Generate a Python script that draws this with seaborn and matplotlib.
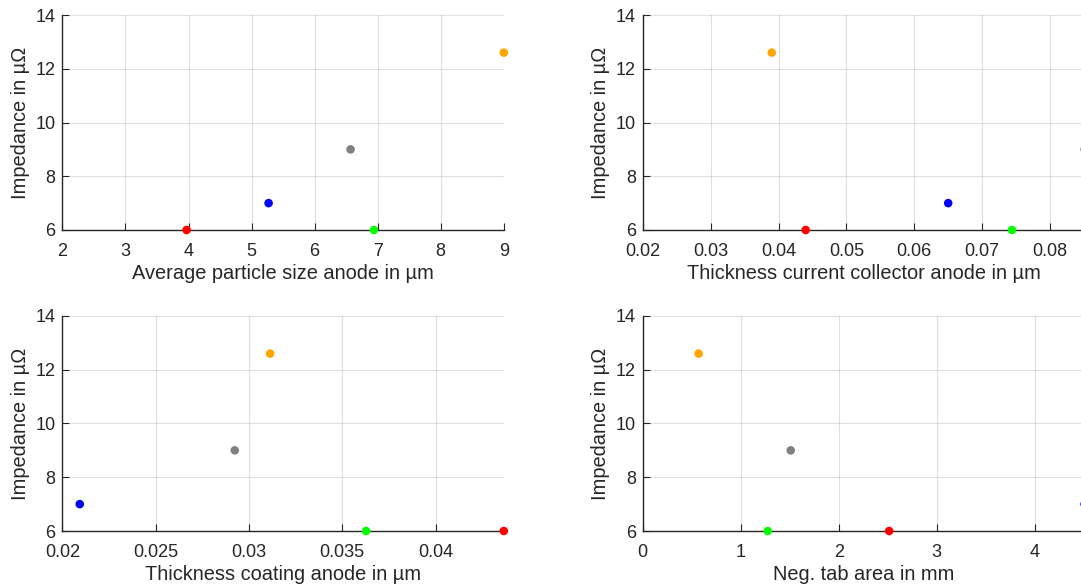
import numpy as np
import pandas as pd
import matplotlib
matplotlib.use("Agg")
import matplotlib.pyplot as plt
import matplotlib.ticker as mticker
import seaborn as sns

# ---- data ----
cells = ["red", "blue", "gray", "green", "orange"]
colors = ["#FF0000", "#0000FF", "#808080", "#00FF00", "#FFA500"]
impedance = [6.0, 7.0, 9.0, 6.0, 12.6]

particle_size = [3.97, 5.27, 6.57, 6.94, 9.0]
thick_cc = [0.0440, 0.0650, 0.0851, 0.0744, 0.0390]
thick_coat = [0.04366, 0.02093, 0.02924, 0.03628, 0.03113]
tab_area = [2.515, 4.51, 1.51, 1.275, 0.57]

xlabels = ["Average particle size anode in µm",
           "Thickness current collector anode in µm",
           "Thickness coating anode in µm",
           "Neg. tab area in mm"]
xlims = [(2, 9), (0.02, 0.0851), (0.02, 0.04366), (0, 4.51)]
xticks = [np.arange(2, 10, 1), np.arange(0.02, 0.0801, 0.01),
          np.arange(0.02, 0.0401, 0.005), np.arange(0, 5, 1)]
yticks = [6, 8, 10, 12, 14]
ylabel = "Impedance in µΩ"

sns.set_theme(style="white")
plt.rcParams['font.family'] = ['Liberation Sans', 'DejaVu Sans']
TXT = "#262626"

W, H = 1081, 588
fig = plt.figure(figsize=(W / 100, H / 100), dpi=100)

# axes boxes in pixels: (left, top, right, bottom)
boxes = [(62.4, 15, 503.8, 230),
         (642.8, 15, 1084.6, 230),
         (62.4, 316, 503.8, 531),
         (642.8, 316, 1084.6, 531)]

xvals = [particle_size, thick_cc, thick_coat, tab_area]

for i, (l, t, r, b) in enumerate(boxes):
    ax = fig.add_axes([l / W, 1 - b / H, (r - l) / W, (b - t) / H])
    df = pd.DataFrame({"x": xvals[i], "y": impedance, "cell": cells})
    sns.scatterplot(data=df, x="x", y="y", hue="cell",
                    palette=dict(zip(cells, colors)), s=38,
                    edgecolor="none", legend=False, ax=ax, clip_on=False,
                    zorder=5)
    ax.set_xlim(*xlims[i])
    ax.set_ylim(6, 14)
    ax.set_xticks(xticks[i])
    ax.set_yticks(yticks)
    ax.xaxis.set_major_formatter(mticker.FormatStrFormatter('%g'))
    ax.yaxis.set_major_formatter(mticker.FormatStrFormatter('%g'))
    ax.grid(True, color="#000000", alpha=0.12, linewidth=0.8)
    ax.set_axisbelow(True)
    for s in ["top", "right"]:
        ax.spines[s].set_visible(False)
    for s in ["left", "bottom"]:
        ax.spines[s].set_visible(True)
        ax.spines[s].set_color(TXT)
        ax.spines[s].set_linewidth(1.0)
    ax.tick_params(direction="in", length=5, width=0.8, colors=TXT,
                   labelsize=13, labelcolor=TXT, bottom=True, left=True)
    ax.tick_params(axis="x", pad=9.5)
    ax.tick_params(axis="y", pad=5)
    ax.set_xlabel(xlabels[i], fontsize=14.4, color=TXT, labelpad=3)
    ax.set_ylabel(ylabel, fontsize=14.4, color=TXT, labelpad=4)

fig.savefig("out.png", dpi=100)
